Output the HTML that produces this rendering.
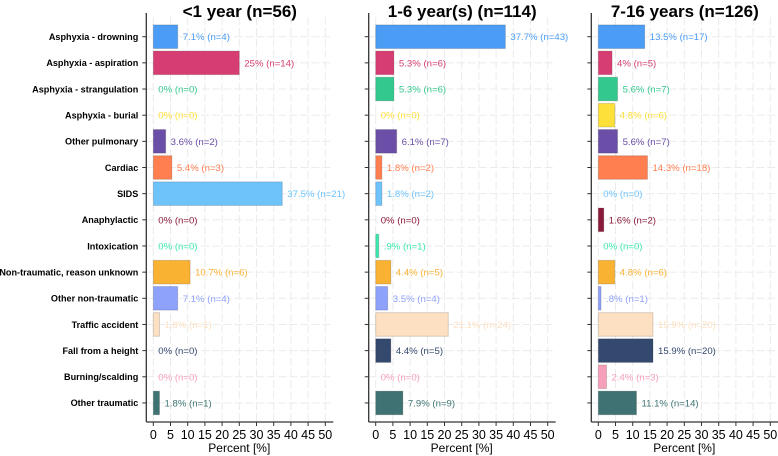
<!DOCTYPE html>
<html><head><meta charset="utf-8"><style>
body{margin:0;background:#fff;}
svg{display:block;font-family:"Liberation Sans",Arial,sans-serif;}
</style></head><body>
<svg id="chart" width="778" height="456"></svg>
<script>
const categories=["Asphyxia - drowning","Asphyxia - aspiration","Asphyxia - strangulation","Asphyxia - burial","Other pulmonary","Cardiac","SIDS","Anaphylactic","Intoxication","Non-traumatic, reason unknown","Other non-traumatic","Traffic accident","Fall from a height","Burning/scalding","Other traumatic"];
const colors=["#4b9cf5","#d63e73","#33c98e","#fde03a","#6b4ea8","#ff7f50","#6ec3fb","#8b1a3a","#3ae8b0","#f9b232","#8fa2fb","#fde0c2","#34496e","#f5a0b8","#3f7373"];
const panelTitles=["<1 year (n=56)","1-6 year(s) (n=114)","7-16 years (n=126)"];
const values1=[7.1,25,0,0,3.6,5.4,37.5,0,0,10.7,7.1,1.8,0,0,1.8];
const counts1=[4,14,0,0,2,3,21,0,0,6,4,1,0,0,1];
const values2=[37.7,5.3,5.3,0,6.1,1.8,1.8,0,0.9,4.4,3.5,21.1,4.4,0,7.9];
const counts2=[43,6,6,0,7,2,2,0,1,5,4,24,5,0,9];
const values3=[13.5,4,5.6,4.8,5.6,14.3,0,1.6,0,4.8,0.8,15.9,15.9,2.4,11.1];
const counts3=[17,5,7,6,7,18,0,2,0,6,1,20,20,3,14];
const xTicks=[0,5,10,15,20,25,30,35,40,45,50];
const allValues=[values1,values2,values3];
const allCounts=[counts1,counts2,counts3];
const NS="http://www.w3.org/2000/svg";
const svg=document.getElementById("chart");
function mk(tag,attrs,parent){const e=document.createElementNS(NS,tag);for(const k in attrs)e.setAttribute(k,attrs[k]);(parent||svg).appendChild(e);return e;}
const zeroX=[153.3,375.7,598.3];
const pxPer=172/50;
const rowY=i=>36.7+i*26.16;
const yTop=17,yBot=422;
function fmt(v){if(v===0)return "0";let s=String(v);if(v<1)s=s.replace(/^0/,"");return s;}
for(let p=0;p<3;p++){
  const g=mk("g",{});
  
  
  const x0=zeroX[p];
  const xs=v=>x0+v*pxPer;
  const axX=x0-7, axEnd=x0+180;
  xTicks.forEach(t=>{mk("line",{x1:xs(t),x2:xs(t),y1:yTop,y2:yBot,stroke:"#ebebeb","stroke-width":1,"stroke-dasharray":"8,3"},g);});
  categories.forEach((c,i)=>{mk("line",{x1:axX,x2:axEnd,y1:rowY(i),y2:rowY(i),stroke:"#ebebeb","stroke-width":1,"stroke-dasharray":"8,3"},g);});
  const t=mk("text",{x:(axX+axEnd)/2,y:17,"text-anchor":"middle","font-size":17,"font-weight":"bold",fill:"#000"},g);
  t.textContent=panelTitles[p];
  
  
  const vals=allValues[p],cnts=allCounts[p];
  vals.forEach((v,i)=>{
    const y=rowY(i);
    if(v>0){
      const r=mk("rect",{x:xs(0),y:y-11.8,width:xs(v)-xs(0),height:23.6,fill:colors[i],stroke:"rgba(0,0,0,0.15)","stroke-width":1},g);
      
      
    }
    const lb=mk("text",{x:xs(v)+5,y:y+3.5,"font-size":9.6,fill:colors[i]},g);
    lb.textContent=fmt(v)+"% (n="+cnts[i]+")";
    
    
  });
  mk("line",{x1:axX,x2:axX,y1:yTop-4,y2:yBot,stroke:"#333","stroke-width":1.3},g);
  mk("line",{x1:axX,x2:axEnd,y1:yBot,y2:yBot,stroke:"#333","stroke-width":1.3},g);
  categories.forEach((c,i)=>{
    mk("line",{x1:axX-4,x2:axX,y1:rowY(i),y2:rowY(i),stroke:"#333"},g);
    if(p===0){
      const tl=mk("text",{x:axX-8,y:rowY(i)+3.3,"text-anchor":"end","font-size":9.1,"font-weight":"bold",fill:"#000"},g);
      tl.textContent=c;
      
      
    }
  });
  xTicks.forEach(tk=>{
    mk("line",{x1:xs(tk),x2:xs(tk),y1:yBot,y2:yBot+4,stroke:"#333"},g);
    const tl=mk("text",{x:xs(tk),y:yBot+17,"text-anchor":"middle","font-size":12.5,fill:"#000"},g);
    tl.textContent=tk;
    
    
  });
  const at=mk("text",{x:xs(25),y:452,"text-anchor":"middle","font-size":12,fill:"#000"},g);
  at.textContent="Percent [%]";
  
  
}
</script>
</body></html>
